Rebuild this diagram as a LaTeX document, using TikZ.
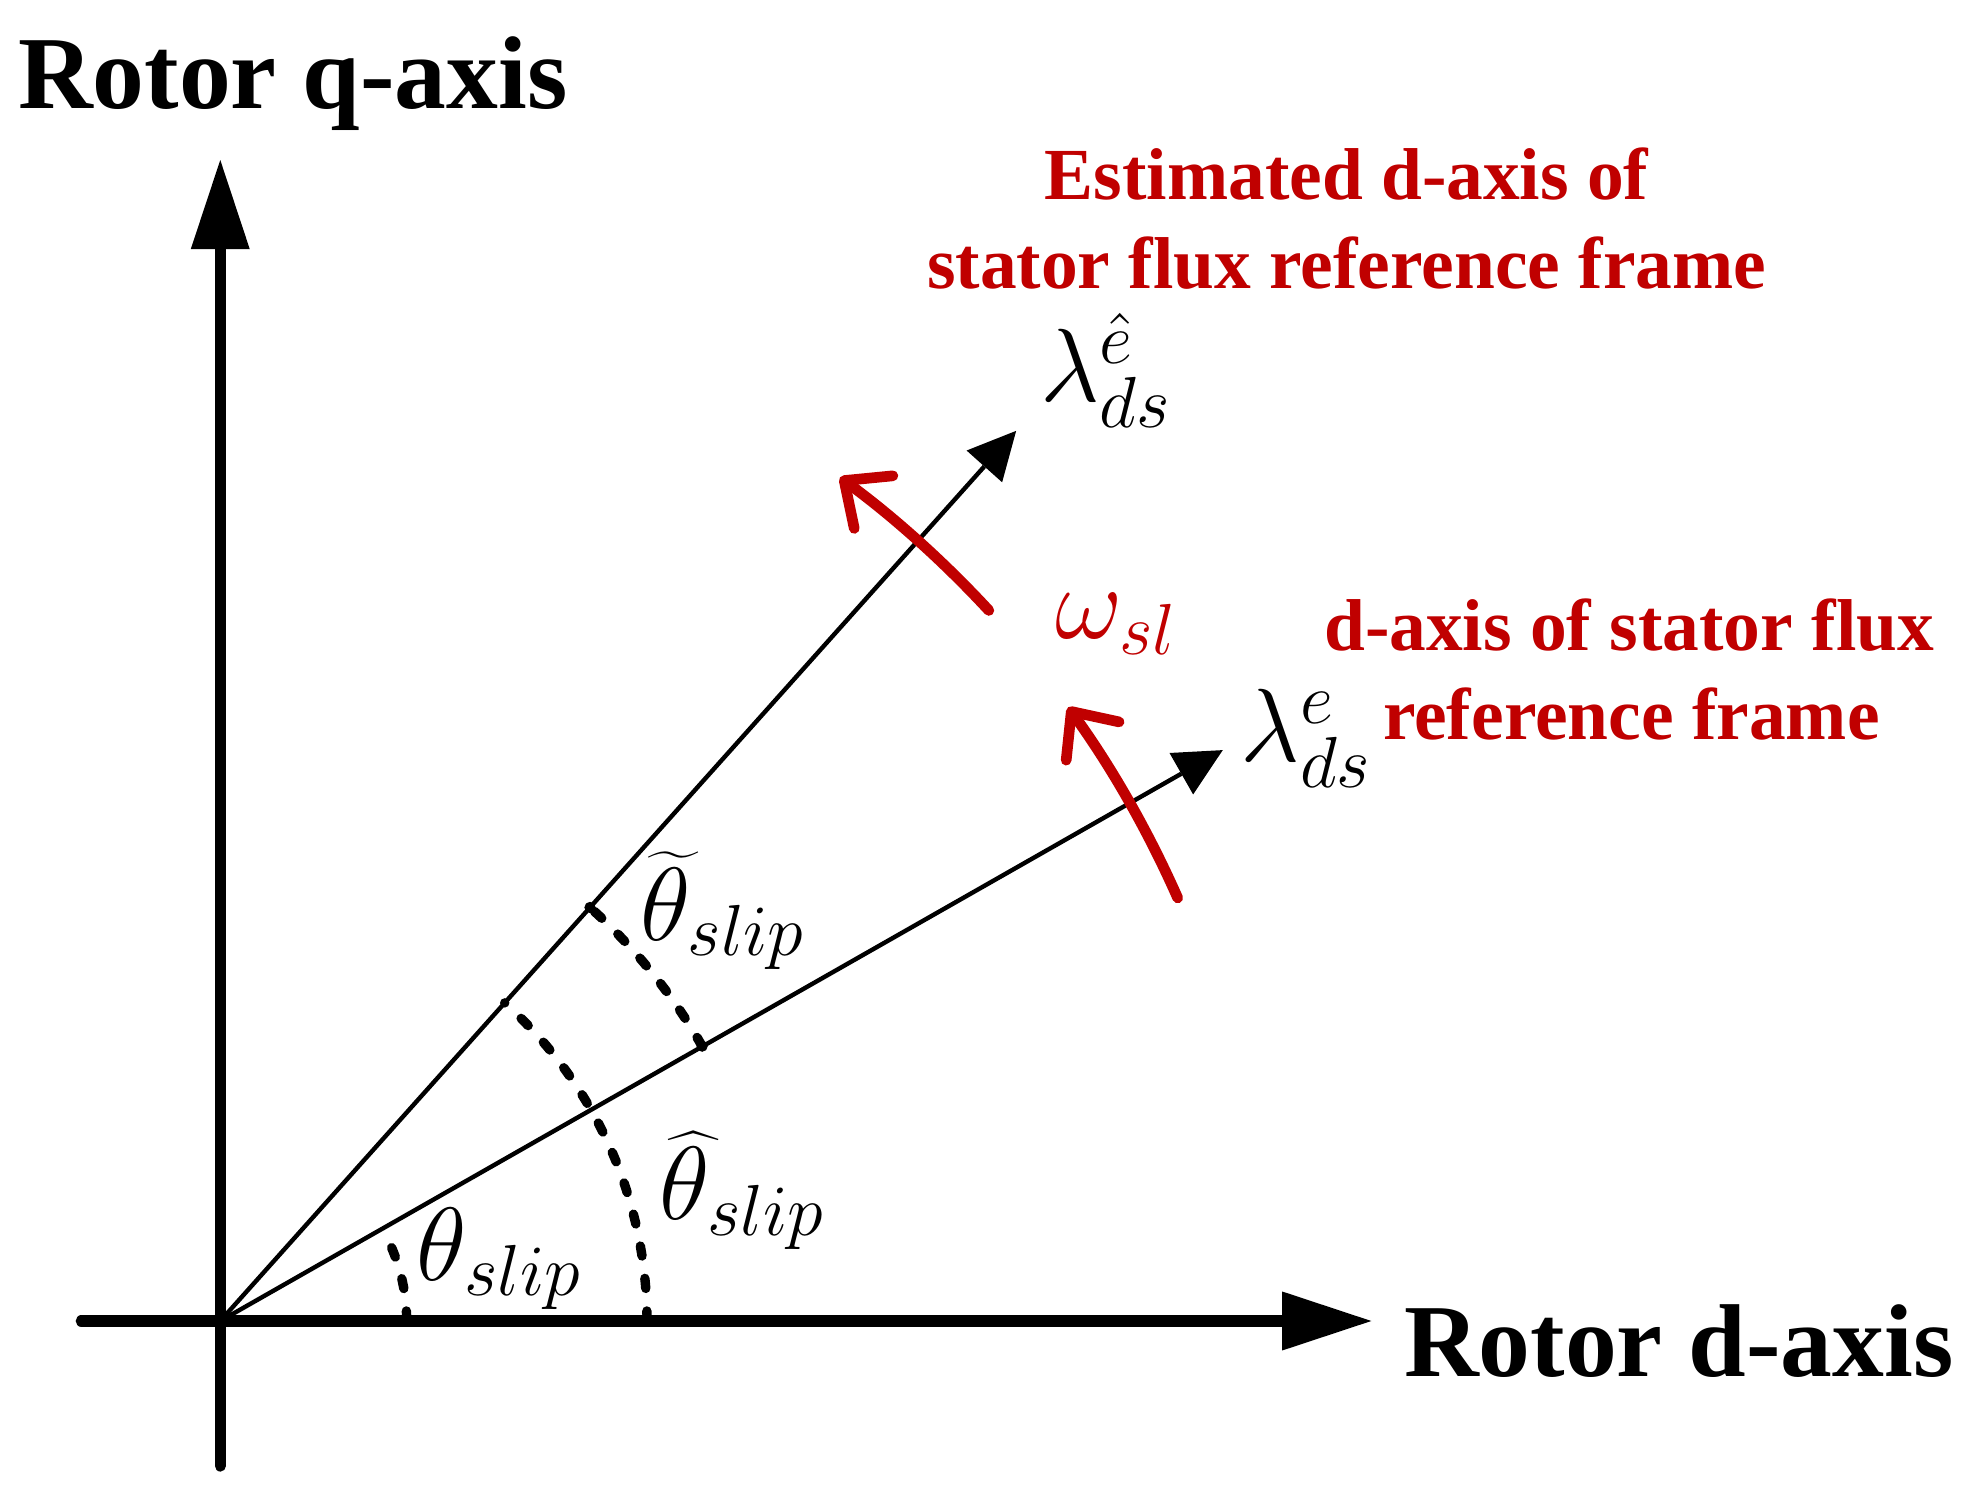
\documentclass[tikz,border=0pt]{standalone}
\usepackage{graphicx}
\usepackage{fontspec}
\setmainfont{Liberation Serif}
\usetikzlibrary{arrows.meta}
\definecolor{dred}{RGB}{192,0,0}
\newcommand{\bigmath}[1]{\scalebox{4}{\fontsize{20.74}{25}\selectfont$#1$}}
\begin{document}
\begin{tikzpicture}[x=1pt,y=1pt,
  axis/.style={line width=9pt, line cap=round, -{Triangle[length=71pt,width=47pt,line width=0pt]}},
  framevec/.style={line width=3.5pt, -{Triangle[length=38pt,width=38pt,line width=0pt]}},
  slipcurve/.style={line width=8.5pt, draw=dred, line cap=round, -{Straight Barb[length=29pt,width=52pt,round]}},
  anglearc/.style={line width=7.5pt, line cap=round, dash pattern=on 8pt off 18pt},
  bigtext/.style={font=\fontsize{82.5}{90}\selectfont\bfseries, inner sep=0pt, anchor=base},
  redtext/.style={font=\fontsize{58.5}{70}\selectfont\bfseries, text=dred, inner sep=0pt, anchor=base},
  mathlbl/.style={inner sep=0pt, anchor=base west}]
\useasboundingbox (-175.5,-138.6) rectangle (1392.5,1052.5);
% points
\coordinate (O) at (0,0);
\coordinate (xL) at (-110.7,0);
\coordinate (xR) at (917.1,0);
\coordinate (yB) at (0,-115.5);
\coordinate (yT) at (0,925);
\coordinate (est) at (48.2:951.4);
\coordinate (act) at (29.66:919.2);
% axes
\draw[axis] (xL) -- (xR);
\draw[axis] (yB) -- (yT);
% frame vectors
\draw[framevec] (O) -- (est);
\draw[framevec] (O) -- (act);
% angle arcs
\draw[anglearc] (148.5,0) arc[start angle=0,end angle=29.7,radius=148.5];
\draw[anglearc] (340,0) arc[start angle=0,end angle=48.2,radius=340];
\draw[anglearc] (29.7:442) arc[start angle=29.7,end angle=48.2,radius=442];
\fill (29.7:442) circle[radius=4.5];
\fill (48.2:442) circle[radius=4.5];
% slip rotation arrows
\draw[slipcurve] (42.75:834) arc[start angle=42.75,end angle=53.7,radius=834];
\draw[slipcurve] (23.84:834) arc[start angle=23.84,end angle=35.9,radius=834];
% labels
\node[bigtext] (qlab) at (57.8,966.2) {Rotor q-axis};
\node[bigtext] (dlab) at (1162,-44.4) {Rotor d-axis};
\node[redtext] (est1) at (897.4,893.9) {Estimated d-axis of};
\node[redtext] (est2) at (897.4,822.8) {stator flux reference frame};
\node[redtext] (act1) at (1122.5,534.1) {d-axis of stator flux};
\node[redtext] (act2) at (1124.3,463.5) {reference frame};
\node[mathlbl] (lamhat) at (653.1,732.5) {\bigmath{\lambda_{ds}^{\hat{e}}}};
\node[mathlbl] (lam) at (812.7,445.6) {\bigmath{\lambda_{ds}^{e}}};
\node[mathlbl, text=dred] (omega) at (665.5,543.5) {\bigmath{\omega_{sl}}};
\node[mathlbl] (ttilde) at (334.5,303.5) {\bigmath{\widetilde{\theta}_{slip}}};
\node[mathlbl] (thatl) at (350,80.5) {\bigmath{\widehat{\theta}_{slip}}};
\node[mathlbl] (tplain) at (156.5,32.5) {\bigmath{\theta_{slip}}};
\end{tikzpicture}
\end{document}
